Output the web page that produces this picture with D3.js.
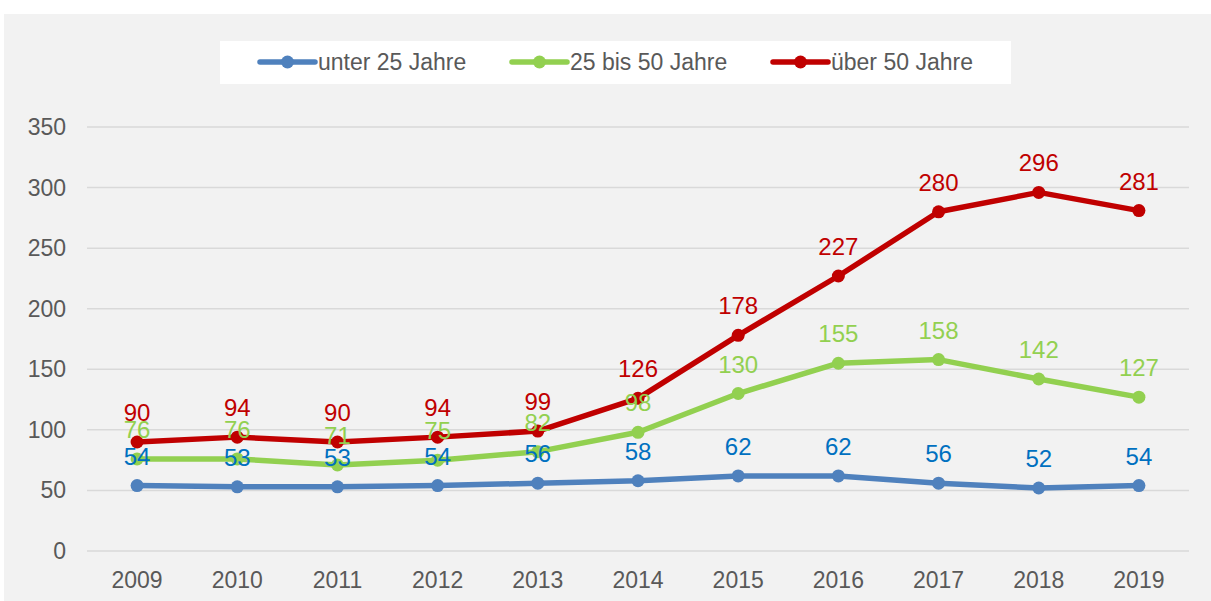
<!DOCTYPE html>
<html>
<head>
<meta charset="utf-8">
<script src="https://cdn.jsdelivr.net/npm/d3@7"></script>
<style>
  body { margin: 0; background: #ffffff; }
  svg { display: block; font-family: "Liberation Sans", Arial, sans-serif; }
</style>
</head>
<body>
<div id="chart"></div>
<script>
// chart data
const years = ["2009", "2010", "2011", "2012", "2013", "2014", "2015", "2016", "2017", "2018", "2019"];
const under25 = [54, 53, 53, 54, 56, 58, 62, 62, 56, 52, 54];
const from25to50 = [76, 76, 71, 75, 82, 98, 130, 155, 158, 142, 127];
const over50 = [90, 94, 90, 94, 99, 126, 178, 227, 280, 296, 281];
const seriesNames = ["unter 25 Jahre", "25 bis 50 Jahre", "über 50 Jahre"];
const yTicks = [0, 50, 100, 150, 200, 250, 300, 350];

document.addEventListener('DOMContentLoaded', function() {
    const width = 1211, height = 601;
    const svg = d3.select('#chart').append('svg')
        .attr('width', width)
        .attr('height', height);

    // grey panel
    svg.append('rect')
        .attr('x', 4).attr('y', 14)
        .attr('width', width - 4).attr('height', height - 14)
        .attr('fill', '#f2f2f2');

    const series = [
        { name: seriesNames[0], values: under25, line: '#4f81bd', label: '#0070c0' },
        { name: seriesNames[1], values: from25to50, line: '#92d050', label: '#92d050' },
        { name: seriesNames[2], values: over50, line: '#c00000', label: '#c00000' }
    ];

    const x = d3.scaleBand().domain(years).range([87, 1189]).padding(0);
    const y = d3.scaleLinear().domain([0, 350]).range([551, 127]);
    const cx = d => x(d) + x.bandwidth() / 2;

    // gridlines
    svg.append('g').selectAll('line')
        .data(yTicks)
        .enter().append('line')
        .attr('x1', 87).attr('x2', 1189)
        .attr('y1', d => y(d)).attr('y2', d => y(d))
        .attr('stroke', '#d9d9d9')
        .attr('stroke-width', 1.5);

    // y axis labels
    svg.append('g').selectAll('text')
        .data(yTicks)
        .enter().append('text')
        .attr('x', 66)
        .attr('y', d => y(d) + 8)
        .attr('text-anchor', 'end')
        .attr('fill', '#595959')
        .style('font-size', '23px')
        .text(d => d);

    // x axis labels
    svg.append('g').selectAll('text')
        .data(years)
        .enter().append('text')
        .attr('x', d => cx(d))
        .attr('y', 588)
        .attr('text-anchor', 'middle')
        .attr('fill', '#595959')
        .style('font-size', '23px')
        .text(d => d);

    const line = d3.line()
        .x((d, i) => cx(years[i]))
        .y(d => y(d));

    series.forEach(s => {
        const g = svg.append('g');
        g.append('path')
            .attr('d', line(s.values))
            .attr('fill', 'none')
            .attr('stroke', s.line)
            .attr('stroke-width', 5.5)
            .attr('stroke-linejoin', 'round')
            .attr('stroke-linecap', 'round');
        g.selectAll('circle')
            .data(s.values)
            .enter().append('circle')
            .attr('cx', (d, i) => cx(years[i]))
            .attr('cy', d => y(d))
            .attr('r', 6.5)
            .attr('fill', s.line);
    });

    // data labels drawn on top
    series.forEach(s => {
        svg.append('g').selectAll('text')
            .data(s.values)
            .enter().append('text')
            .attr('x', (d, i) => cx(years[i]))
            .attr('y', d => y(d) - 21)
            .attr('text-anchor', 'middle')
            .attr('fill', s.label)
            .style('font-size', '24px')
            .text(d => d);
    });

    // legend
    const legend = svg.append('g');
    legend.append('rect')
        .attr('x', 220).attr('y', 41)
        .attr('width', 791).attr('height', 43)
        .attr('fill', '#ffffff');
    const legendX = [260, 512, 773];
    series.forEach((s, i) => {
        const lg = legend.append('g').attr('transform', `translate(${legendX[i]},62)`);
        lg.append('line')
            .attr('x1', 0).attr('x2', 55)
            .attr('stroke', s.line)
            .attr('stroke-width', 5.5)
            .attr('stroke-linecap', 'round');
        lg.append('circle')
            .attr('cx', 27.5).attr('r', 6.5)
            .attr('fill', s.line);
        lg.append('text')
            .attr('x', 58).attr('y', 8)
            .attr('fill', '#595959')
            .style('font-size', '23px')
            .text(s.name);
    });
});
</script>
</body>
</html>
